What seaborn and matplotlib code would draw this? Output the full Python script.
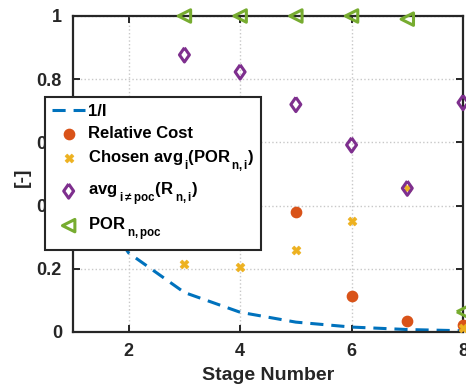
import matplotlib
matplotlib.use('Agg')
import matplotlib.pyplot as plt
import seaborn as sns

try:
    import matplotlib._mathtext as _mt
    _mt.FontConstantsBase.sub1 = 0.85
    _mt.FontConstantsBase.sub2 = 0.9
    _mt.FontConstantsBase.subdrop = 0.6
except Exception:
    pass

# ---- data ----
line_stage = [1, 2, 3, 4, 5, 6, 7, 8]
inv_I = [0.5, 0.25, 0.125, 0.0625, 0.03125, 0.015625, 0.0078125, 0.00390625]

cost_stage = [5, 6, 7, 8]
rel_cost = [0.38, 0.114, 0.036, 0.022]

chosen_stage = [3, 4, 5, 6, 7, 8]
chosen_avg = [0.215, 0.205, 0.26, 0.35, 0.455, 0.012]

avg_stage = [3, 4, 5, 6, 7, 8]
avg_r = [0.877, 0.823, 0.72, 0.592, 0.455, 0.726]

por_stage = [3, 4, 5, 6, 7, 8]
por_poc = [1.0, 1.0, 1.0, 1.0, 0.99, 0.064]

labels = ["1/I", "Relative Cost",
          r"Chosen avg$_{\,\mathbf{i}}$(POR$_{\,\mathbf{n,i}}$)",
          r"avg$_{\;\mathbf{i\neq poc}}$(R$_{\;\mathbf{n,i}}$)",
          r"POR$_{\;\mathbf{n,poc}}$"]
xticks = [2, 4, 6, 8]
yticks = [0, 0.2, 0.4, 0.6, 0.8, 1]
yticklabels = ["0", "0.2", "0.4", "0.6", "0.8", "1"]

# ---- style ----
sns.set_theme(style="ticks")
plt.rcParams['font.family'] = ['Liberation Sans', 'DejaVu Sans']
plt.rcParams['font.weight'] = 'bold'
plt.rcParams['mathtext.fontset'] = 'custom'
plt.rcParams['mathtext.rm'] = 'Liberation Sans:bold'
plt.rcParams['mathtext.bf'] = 'Liberation Sans:bold'
plt.rcParams['mathtext.it'] = 'Liberation Sans:bold'
plt.rcParams['mathtext.default'] = 'bf'

blue = '#0072BD'
orange = '#D95319'
yellow = '#EDB120'
purple = '#7E2F8E'
green = '#77AC30'
dark = '#262626'

diamond = [(0, 1), (0.7, 0), (0, -1), (-0.7, 0), (0, 1)]

fig = plt.figure(figsize=(4.66, 3.9), dpi=100)
ax = fig.add_axes([73/466, 1-332/390, (463-73)/466, (332-16)/390])

sns.lineplot(x=line_stage, y=inv_I, ax=ax, color=blue, linewidth=2.2,
             linestyle=(0, (4.3, 2.6)), label=labels[0])
sns.scatterplot(x=cost_stage, y=rel_cost, ax=ax, marker='o', s=55,
                color=orange, edgecolor=orange, linewidth=1, label=labels[1],
                clip_on=False, zorder=3)
sns.scatterplot(x=chosen_stage, y=chosen_avg, ax=ax, marker='X', s=40,
                color=yellow, edgecolor=yellow, linewidth=0.5, label=labels[2],
                clip_on=False, zorder=3)
sns.scatterplot(x=avg_stage, y=avg_r, ax=ax, marker=diamond, s=105,
                color='none', edgecolor=purple, linewidth=2.2, label=labels[3],
                clip_on=False, zorder=3)
sns.scatterplot(x=por_stage, y=por_poc, ax=ax, marker='<', s=80,
                color='none', edgecolor=green, linewidth=2.2, label=labels[4],
                clip_on=False, zorder=3)

ax.set_xlim(1, 8)
ax.set_ylim(0, 1)
ax.set_xticks(xticks)
ax.set_xticklabels([str(t) for t in xticks])
ax.set_yticks(yticks)
ax.set_yticklabels(yticklabels)
ax.grid(True, linestyle=':', color='#c8c8c8', linewidth=1)
ax.set_axisbelow(True)
for sp in ax.spines.values():
    sp.set_visible(True)
    sp.set_color(dark)
    sp.set_linewidth(1.6)
ax.tick_params(direction='in', length=5, width=1.4, colors=dark,
               labelsize=13, top=True, right=True, pad=8)
for lab in ax.get_xticklabels() + ax.get_yticklabels():
    lab.set_fontweight('bold')

ax.set_xlabel("Stage Number", fontsize=14, fontweight='bold', color=dark, labelpad=5)
ax.set_ylabel("[-]", fontsize=14, fontweight='bold', color=dark)
ax.yaxis.set_label_coords(-0.108, 0.49)

leg = ax.legend(loc='upper left', bbox_to_anchor=(45/466, 1-97/390),
                bbox_transform=fig.transFigure, borderaxespad=0,
                fancybox=False, framealpha=1, edgecolor=dark,
                prop={'weight': 'bold', 'size': 12},
                handlelength=2.0, handletextpad=0.15, labelspacing=0.42,
                borderpad=0.42)
leg.get_frame().set_linewidth(1.5)
for t in leg.get_texts():
    t.set_color('black')

fig.savefig("out.png", dpi=100)
